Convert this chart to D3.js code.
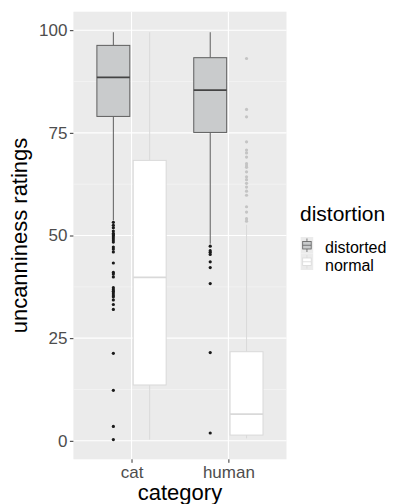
<!DOCTYPE html>
<html>
<head>
<meta charset="utf-8">
<script src="https://cdn.jsdelivr.net/npm/d3@7"></script>
<style>
  html, body { margin: 0; padding: 0; background: #ffffff; }
  svg { display: block; font-family: "Liberation Sans", Arial, sans-serif; }
</style>
</head>
<body>
<svg id="chart" width="396" height="504"></svg>
<script>
// Categories on the x axis and the two distortion conditions
const categories = ["cat", "human"];
const distortions = ["distorted", "normal"];

// One box per (category, distortion) group
const groupCategory = ["cat", "cat", "human", "human"];
const groupDistortion = ["distorted", "normal", "distorted", "normal"];

// Box statistics per group
const whiskerLow  = [53.7, 0.3, 48.0, 0.6];
const q1          = [79.0, 13.6, 75.1, 1.4];
const median      = [88.5, 39.8, 85.4, 6.5];
const q3          = [96.3, 68.3, 93.3, 21.7];
const whiskerHigh = [99.5, 99.5, 99.5, 52.6];

// Outlying ratings per group
const outliersCatDistorted = [53.2, 52.5, 51.9, 51.1, 50.5, 50.2, 49.9, 49.4, 48.9, 48.4, 47.2, 46.7, 46.0,
  43.3, 41.0, 40.6, 39.9, 37.3, 36.8, 36.4, 36.0, 35.5, 35.1, 34.3, 33.2, 32.0, 21.3, 12.3, 3.5, 0.3];
const outliersCatNormal = [];
const outliersHumanDistorted = [47.4, 46.3, 45.9, 45.4, 43.6, 42.2, 38.3, 21.5, 1.9];
const outliersHumanNormal = [93.1, 80.7, 78.9, 72.8, 70.8, 70.1, 69.1, 67.5, 66.9, 66.6, 65.5, 64.3,
  63.6, 62.7, 61.8, 60.8, 59.8, 57.0, 55.7, 54.1, 53.5];
const outliers = [outliersCatDistorted, outliersCatNormal, outliersHumanDistorted, outliersHumanNormal];

// Axis ticks
const yTicks = [0, 25, 50, 75, 100];
const yMinorTicks = [12.5, 37.5, 62.5, 87.5];

const groups = groupCategory.map((c, i) => ({
  category: c, distortion: groupDistortion[i],
  lo: whiskerLow[i], q1: q1[i], med: median[i], q3: q3[i], hi: whiskerHigh[i], out: outliers[i]
}));

const svg = d3.select("#chart");
const panel = { left: 73.4, right: 286.5, top: 11.7, bottom: 459.3 };

// Discrete positions 1..n with 0.6 padding on each side
const xPos = d3.scaleLinear().domain([0.4, categories.length + 0.6]).range([panel.left, panel.right]);
const catIndex = d3.scaleOrdinal().domain(categories).range(categories.map((_, i) => i + 1));
const dodge = d3.scaleOrdinal().domain(distortions).range([-0.1875, 0.1875]);
const boxWidth = 0.34;
const y = d3.scaleLinear().domain([-4.5, 104.5]).range([panel.bottom, panel.top]);

const fillColor = d3.scaleOrdinal().domain(distortions).range(["#c9cbcc", "#ffffff"]);
const lineColor = d3.scaleOrdinal().domain(distortions).range(["#5e5e5e", "#d9d9d9"]);
const pointColor = d3.scaleOrdinal().domain(distortions).range(["#1a1a1a", "#c4c4c4"]);

// Panel background and grid
svg.append("rect")
  .attr("x", panel.left).attr("y", panel.top)
  .attr("width", panel.right - panel.left).attr("height", panel.bottom - panel.top)
  .attr("fill", "#ebebeb");

const grid = svg.append("g");
grid.selectAll(".minor").data(yMinorTicks).join("line")
  .attr("x1", panel.left).attr("x2", panel.right)
  .attr("y1", d => y(d)).attr("y2", d => y(d))
  .attr("stroke", "#f7f7f7").attr("stroke-width", 0.6);
grid.selectAll(".major").data(yTicks).join("line")
  .attr("x1", panel.left).attr("x2", panel.right)
  .attr("y1", d => y(d)).attr("y2", d => y(d))
  .attr("stroke", "#ffffff").attr("stroke-width", 1.1);
grid.selectAll(".xmajor").data(categories).join("line")
  .attr("x1", d => xPos(catIndex(d))).attr("x2", d => xPos(catIndex(d)))
  .attr("y1", panel.top).attr("y2", panel.bottom)
  .attr("stroke", "#ffffff").attr("stroke-width", 1.1);

// Boxplots
const boxes = svg.append("g").selectAll("g").data(groups).join("g");
const cx = d => xPos(catIndex(d.category) + dodge(d.distortion));
const half = d => (xPos(boxWidth) - xPos(0)) / 2;

boxes.append("line")
  .attr("x1", cx).attr("x2", cx)
  .attr("y1", d => y(d.hi)).attr("y2", d => y(d.q3))
  .attr("stroke", d => lineColor(d.distortion)).attr("stroke-width", 1);
boxes.append("line")
  .attr("x1", cx).attr("x2", cx)
  .attr("y1", d => y(d.q1)).attr("y2", d => y(d.lo))
  .attr("stroke", d => lineColor(d.distortion)).attr("stroke-width", 1);
boxes.append("rect")
  .attr("x", d => cx(d) - half(d)).attr("width", d => 2 * half(d))
  .attr("y", d => y(d.q3)).attr("height", d => y(d.q1) - y(d.q3))
  .attr("fill", d => fillColor(d.distortion))
  .attr("stroke", d => lineColor(d.distortion)).attr("stroke-width", 1);
boxes.append("line")
  .attr("x1", d => cx(d) - half(d)).attr("x2", d => cx(d) + half(d))
  .attr("y1", d => y(d.med)).attr("y2", d => y(d.med))
  .attr("stroke", d => d.distortion === "distorted" ? "#444444" : "#d9d9d9").attr("stroke-width", 1.6);
boxes.selectAll("circle").data(d => d.out.map(v => ({ v, d }))).join("circle")
  .attr("cx", o => cx(o.d)).attr("cy", o => y(o.v)).attr("r", 1.6)
  .attr("fill", o => pointColor(o.d.distortion));

// Axes
const axisColor = "#333333";
const labelColor = "#4d4d4d";
const yAxis = svg.append("g").attr("transform", `translate(${panel.left},0)`)
  .call(d3.axisLeft(y).tickValues(yTicks).tickSize(3.5).tickPadding(2.5));
yAxis.select(".domain").remove();
yAxis.selectAll(".tick line").attr("stroke", axisColor);
yAxis.selectAll(".tick text").attr("fill", labelColor).attr("font-size", 17)
  .attr("font-family", "'Liberation Sans', Arial, sans-serif");

const xAxis = svg.append("g").attr("transform", `translate(0,${panel.bottom})`)
  .call(d3.axisBottom(xPos).tickValues(categories.map(c => catIndex(c)))
    .tickFormat((v, i) => categories[i]).tickSize(3.5).tickPadding(3));
xAxis.select(".domain").remove();
xAxis.selectAll(".tick line").attr("stroke", axisColor);
xAxis.selectAll(".tick text").attr("fill", labelColor).attr("font-size", 17)
  .attr("font-family", "'Liberation Sans', Arial, sans-serif");

// Axis titles
svg.append("text")
  .attr("x", (panel.left + panel.right) / 2).attr("y", 500)
  .attr("text-anchor", "middle").attr("font-size", 22).attr("fill", "#000")
  .text("category");
svg.append("text")
  .attr("transform", `translate(27,${(panel.top + panel.bottom) / 2}) rotate(-90)`)
  .attr("text-anchor", "middle").attr("font-size", 22).attr("fill", "#000")
  .text("uncanniness ratings");

// Legend
const legend = svg.append("g");
legend.append("text")
  .attr("x", 300).attr("y", 221).attr("font-size", 21).attr("fill", "#000")
  .text("distortion");
const keyH = 16.5, keyW = 12.5, keyX = 300.7, keyY = 237;
const keys = legend.selectAll(".key").data(distortions).join("g")
  .attr("transform", (d, i) => `translate(${keyX},${keyY + i * keyH})`);
keys.append("rect").attr("width", keyW).attr("height", keyH).attr("fill", "#ebebeb");
keys.append("line")
  .attr("x1", keyW / 2).attr("x2", keyW / 2).attr("y1", 1.5).attr("y2", keyH - 1.5)
  .attr("stroke", d => lineColor(d)).attr("stroke-width", 0.8);
keys.append("rect")
  .attr("x", 2).attr("y", 4.5).attr("width", keyW - 4).attr("height", keyH - 9)
  .attr("fill", d => fillColor(d)).attr("stroke", d => lineColor(d)).attr("stroke-width", 0.8);
keys.append("line")
  .attr("x1", 2).attr("x2", keyW - 2).attr("y1", keyH / 2).attr("y2", keyH / 2)
  .attr("stroke", d => lineColor(d)).attr("stroke-width", 0.8);
// Labels sit on their own rows, slightly more spaced than the keys
const labelRow = 18.5, labelBase = 252.5;
legend.selectAll(".key-label").data(distortions).join("text")
  .attr("x", 325).attr("y", (d, i) => labelBase + i * labelRow)
  .attr("font-size", 16).attr("fill", "#000")
  .text(d => d);
</script>
</body>
</html>
